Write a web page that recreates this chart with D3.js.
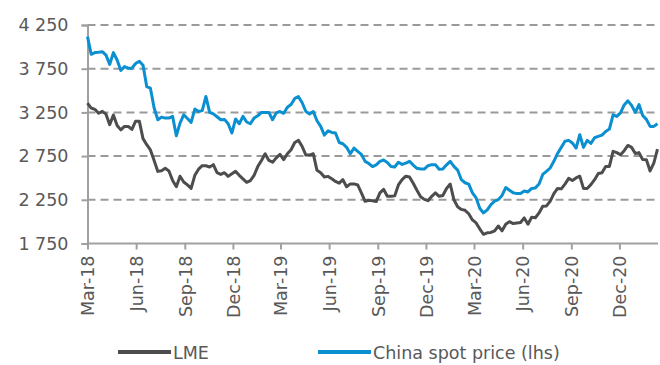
<!DOCTYPE html>
<html>
<head>
<meta charset="utf-8">
<script src="https://cdn.jsdelivr.net/npm/d3@7"></script>
<style>
  html, body { margin: 0; padding: 0; background: #fff; }
  svg { display: block; }
  text { font-family: "DejaVu Sans", Verdana, sans-serif; fill: #595959; }
</style>
</head>
<body>
<svg id="chart" width="660" height="365"></svg>
<script>
// ---- data (weekly, starting 1 Mar 2018) ----
const firstWeek = "2018-03-01";
const chinaSpot = [
  4117,3915,3934,3938,3945,3905,3800,3934,3850,3730,
  3774,3756,3756,3810,3835,3790,3546,3527,3300,3166,
  3196,3185,3185,3204,2983,3128,3223,3180,3136,3288,
  3260,3270,3432,3250,3234,3200,3166,3170,3120,3014,
  3174,3120,3204,3140,3120,3185,3211,3250,3250,3250,
  3166,3245,3260,3240,3310,3340,3410,3430,3360,3260,
  3231,3260,3154,3090,2990,3040,3021,3014,2906,2891,
  2850,2777,2842,2804,2770,2690,2665,2630,2650,2690,
  2705,2678,2630,2625,2680,2655,2670,2690,2648,2610,
  2602,2602,2640,2652,2652,2600,2602,2650,2690,2632,
  2590,2480,2445,2430,2330,2271,2150,2100,2135,2195,
  2235,2252,2300,2390,2360,2330,2321,2321,2350,2340,
  2380,2386,2430,2540,2575,2614,2690,2780,2850,2920,
  2930,2900,2842,2994,2850,2930,2895,2960,2975,2990,
  3032,3059,3223,3204,3245,3335,3382,3330,3250,3340,
  3215,3170,3090,3090,3120
];
const lme = [
  3356,3300,3285,3240,3262,3230,3110,3220,3100,3050,
  3090,3090,3055,3150,3150,2950,2880,2820,2700,2575,
  2583,2610,2580,2470,2400,2520,2454,2420,2380,2530,
  2600,2640,2640,2625,2652,2560,2540,2560,2518,2549,
  2575,2530,2490,2450,2470,2530,2630,2700,2777,2700,
  2680,2730,2770,2710,2777,2823,2906,2930,2860,2762,
  2762,2777,2587,2560,2510,2518,2490,2460,2440,2480,
  2400,2432,2432,2420,2330,2233,2244,2240,2230,2330,
  2370,2290,2290,2295,2420,2480,2520,2510,2440,2360,
  2285,2255,2240,2290,2330,2290,2300,2380,2430,2250,
  2170,2140,2130,2090,2020,1985,1915,1855,1872,1876,
  1895,1950,1895,1970,2000,1978,1985,1990,2043,1970,
  2050,2045,2100,2176,2180,2233,2320,2380,2375,2430,
  2495,2470,2500,2520,2380,2380,2424,2480,2550,2560,
  2632,2632,2804,2790,2765,2812,2872,2850,2780,2790,
  2710,2709,2580,2670,2830
];
const tickLabels = ["Mar-18","Jun-18","Sep-18","Dec-18","Mar-19","Jun-19",
                    "Sep-19","Dec-19","Mar-20","Jun-20","Sep-20","Dec-20"];
const yTicks = [1750, 2250, 2750, 3250, 3750, 4250];
const seriesNames = ["LME", "China spot price (lhs)"];
const seriesColors = ["#4d4d4d", "#0a8fd1"];

// ---- build ----
const start = d3.timeParse("%Y-%m-%d")(firstWeek);
const dates = chinaSpot.map((_, i) => d3.timeDay.offset(start, 7 * i));
const parseTick = d3.timeParse("%b-%y");
const tickDates = tickLabels.map(parseTick);

const svg = d3.select("#chart");
const x = d3.scaleTime().domain([start, dates[dates.length - 1]]).range([87.5, 657.5]);
const y = d3.scaleLinear().domain([1750, 4250]).range([243.5, 25]);

// gridlines
svg.append("g").selectAll("line").data(yTicks.filter(d => d > 1750)).join("line")
  .attr("x1", 87.5).attr("x2", 658)
  .attr("y1", d => y(d)).attr("y2", d => y(d))
  .attr("stroke", "#9a9a9a").attr("stroke-width", 2)
  .attr("stroke-dasharray", "8,5");

// y axis
const yAxis = svg.append("g").attr("transform", "translate(87.5,0)")
  .call(d3.axisLeft(y).tickValues(yTicks).tickSize(6).tickPadding(13)
    .tickFormat(d => d3.format(",")(d).replace(",", " ")));
yAxis.select(".domain").attr("stroke", "#a0a0a0").attr("stroke-width", 2);
yAxis.selectAll(".tick line").attr("stroke", "#a0a0a0").attr("stroke-width", 2);
yAxis.selectAll("text").attr("font-size", 17.5).attr("fill", "#595959")
  .style("font-family", "DejaVu Sans, Verdana, sans-serif");

// x axis
const xAxis = svg.append("g").attr("transform", "translate(0,243.5)")
  .call(d3.axisBottom(x).tickValues(tickDates).tickSize(6)
    .tickFormat((d, i) => tickLabels[i]));
xAxis.select(".domain").attr("stroke", "#a0a0a0").attr("stroke-width", 2)
  .attr("d", "M87.5,0H658");
xAxis.selectAll(".tick line").attr("stroke", "#a0a0a0").attr("stroke-width", 2);
xAxis.selectAll("text")
  .attr("font-size", 17.5).attr("fill", "#595959")
  .style("font-family", "DejaVu Sans, Verdana, sans-serif")
  .attr("transform", "rotate(-90)")
  .attr("text-anchor", "end")
  .attr("x", -12).attr("y", 0).attr("dy", "0.36em");

// lines
const line = d3.line().x((d, i) => x(dates[i])).y(d => y(d));
[lme, chinaSpot].forEach((s, k) => {
  svg.append("path").datum(s).attr("d", line)
    .attr("fill", "none").attr("stroke", seriesColors[k])
    .attr("stroke-width", 3).attr("stroke-linejoin", "round");
});

// legend
const legendX = [118, 318];
const lg = svg.append("g");
seriesNames.forEach((n, k) => {
  lg.append("line").attr("x1", legendX[k]).attr("x2", legendX[k] + 53)
    .attr("y1", 352).attr("y2", 352)
    .attr("stroke", seriesColors[k]).attr("stroke-width", 4);
  lg.append("text").attr("x", legendX[k] + 55).attr("y", 358.5)
    .attr("font-size", 17.5).text(n);
});
</script>
</body>
</html>
